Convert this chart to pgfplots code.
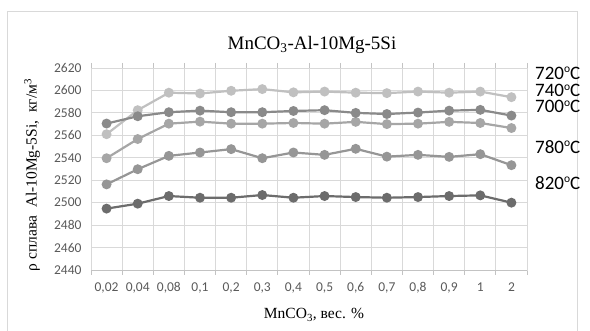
\documentclass[border=0pt]{standalone}
\usepackage{pgfplots}
\pgfplotsset{compat=1.18}
\usepackage{pgfplotstable}
\usepackage{fontspec}
\setmainfont{Liberation Serif}
\newfontfamily\carlito{Carlito}
\definecolor{c720}{RGB}{192,192,192}
\definecolor{c740}{RGB}{138,138,138}
\definecolor{c700}{RGB}{166,166,166}
\definecolor{c780}{RGB}{150,150,150}
\definecolor{c820}{RGB}{108,108,108}
\definecolor{gridgray}{RGB}{217,217,217}
\definecolor{axisgray}{RGB}{195,195,195}
\definecolor{framegray}{RGB}{217,217,217}
\definecolor{ticktext}{RGB}{89,89,89}
\newcommand{\degsign}{\raisebox{6.5pt}{\fontsize{11.5}{11.5}\selectfont o}}
\pgfplotstableread{
x t720 t740 t700 t780 t820
0 2561 2570.5 2539.6 2516.3 2494.7
1 2582.4 2577 2556.7 2529.8 2499.1
2 2598 2580.6 2570.4 2541.7 2505.9
3 2597.3 2582 2572.2 2544.7 2504.4
4 2599.7 2580.6 2570.4 2547.7 2504.4
5 2601.2 2580.6 2570.4 2539.6 2506.8
6 2598.3 2581.7 2571 2544.7 2504.4
7 2599 2582.4 2570.4 2542.6 2505.9
8 2598 2580 2572 2548 2505
9 2597.6 2579 2570 2541 2504.4
10 2599 2580.3 2570.4 2542.6 2505
11 2598 2582 2572 2540.8 2505.9
12 2599 2582.7 2571 2543.2 2506.5
13 2594 2577.6 2566.5 2533.4 2500
}\datatable
\begin{document}
\begin{tikzpicture}[x=1pt,y=1pt]
\useasboundingbox (0,0) rectangle (590,331);
\draw[framegray, line width=1pt] (7,-5) -- (7,319) -- (577,319) -- (577,-5);
\begin{axis}[
  at={(91pt,61pt)}, anchor=south west,
  scale only axis, width=436pt, height=202pt,
  xmin=-0.5, xmax=13.5, ymin=2440, ymax=2620,
  xtick={0,...,13},
  xticklabels={0{,}02,0{,}04,0{,}08,0{,}1,0{,}2,0{,}3,0{,}4,0{,}5,0{,}6,0{,}7,0{,}8,0{,}9,1,2},
  minor xtick={-0.5,0.5,...,13.5},
  ytick={2440,2460,...,2620},
  ymajorgrids, xminorgrids,
  grid style={gridgray, line width=0.8pt},
  minor grid style={gridgray, line width=0.8pt},
  axis line style={draw=gridgray, line width=0.8pt},
  major tick length=0pt,
  minor tick length=5pt,
  tick align=outside,
  xtick style={draw=none},
  minor x tick style={draw=axisgray, line width=0.8pt},
  ytick style={draw=none},
  /pgf/number format/assume math mode=true,
  /pgf/number format/1000 sep={},
  tick label style={font=\carlito\fontsize{13.5}{14}\selectfont, text=ticktext},
  yticklabel style={xshift=-6pt},
  xticklabel style={yshift=-9pt},
  clip=false,
]
\draw[axisgray, line width=0.8pt] (axis cs:-0.5,2440) -- (axis cs:13.5,2440);
\addplot[c720, line width=2.2pt, mark=*, mark size=3.8pt, mark options={fill=c720, draw=c720}] table[x=x, y=t720] {\datatable};
\addplot[c700, line width=2.2pt, mark=*, mark size=3.8pt, mark options={fill=c700, draw=c700}] table[x=x, y=t700] {\datatable};
\addplot[c740, line width=2.2pt, mark=*, mark size=3.8pt, mark options={fill=c740, draw=c740}] table[x=x, y=t740] {\datatable};
\addplot[c780, line width=2.2pt, mark=*, mark size=3.8pt, mark options={fill=c780, draw=c780}] table[x=x, y=t780] {\datatable};
\addplot[c820, line width=2.2pt, mark=*, mark size=3.8pt, mark options={fill=c820, draw=c820}] table[x=x, y=t820] {\datatable};
\end{axis}
\node[anchor=center, font=\fontsize{19}{19}\selectfont] at (312,286) {MnCO\textsubscript{3}-Al-10Mg-5Si};
\node[anchor=center, font=\fontsize{15.5}{16}\selectfont] at (314,16) {MnCO\textsubscript{3}, вес. \%};
\node[anchor=center, rotate=90, font=\fontsize{15.5}{16}\selectfont] at (32,156) {ρ сплава\ \ Al-10Mg-5Si,\ \ кг/м\textsuperscript{3}};
\begin{scope}[every node/.style={anchor=west, inner sep=0pt, font=\carlito\fontsize{19}{19}\selectfont}]
\node at (535,258) {720\degsign C};
\node at (535,240.5) {740\degsign C};
\node at (535,224.5) {700\degsign C};
\node at (535,184) {780\degsign C};
\node at (535,148) {820\degsign C};
\end{scope}
\end{tikzpicture}
\end{document}
